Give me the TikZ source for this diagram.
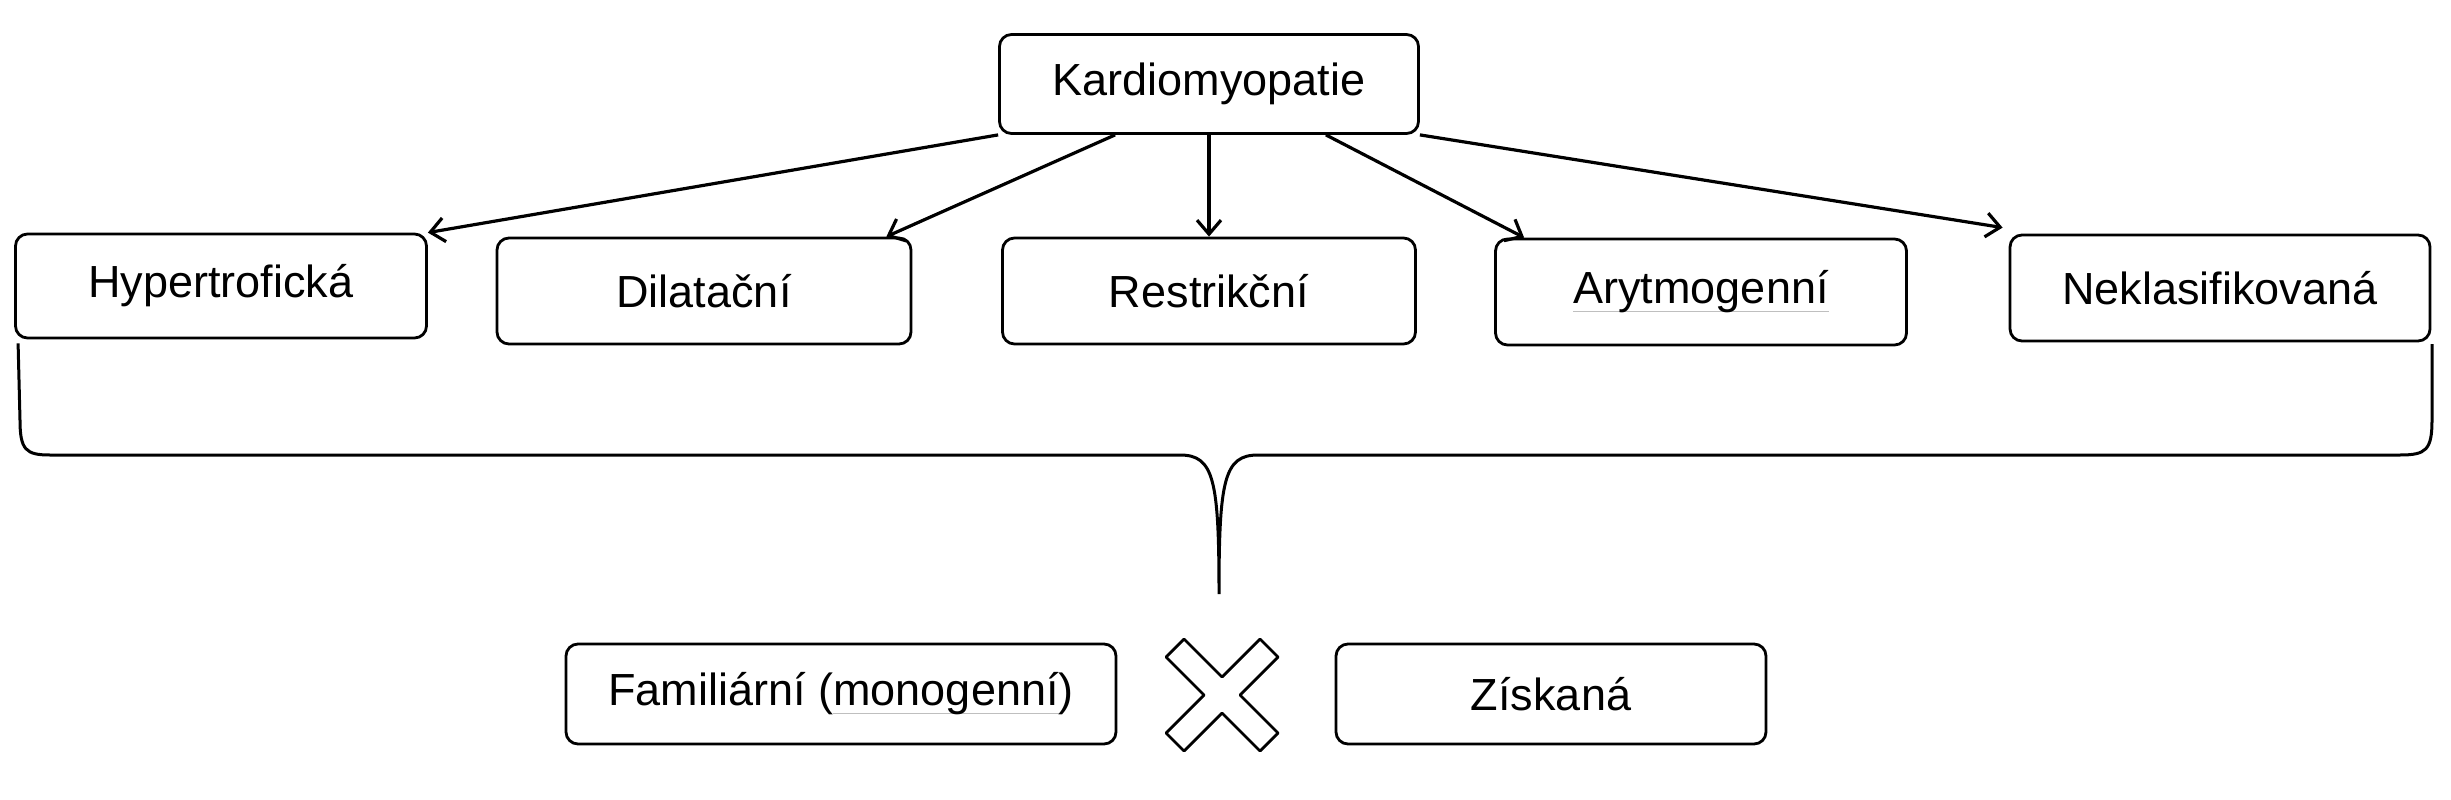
\documentclass[tikz,border=0pt]{standalone}
\usepackage{fontspec}
\usetikzlibrary{arrows.meta}
\setmainfont{Liberation Sans}
\newcommand\grayul[1]{\setbox0\hbox{#1}\rlap{\color{gray!50}\rule[-8pt]{\wd0}{1.2pt}}\box0}
\begin{document}
\begin{tikzpicture}[x=1pt,y=-1pt,
  box/.style={draw,line width=2.8pt,rounded corners=12pt,font=\fontsize{45}{50}\selectfont,inner sep=0pt},
  arr/.style={line width=3.2pt,-{Straight Barb[length=14pt,width=24pt,line width=3.2pt]}}]
\useasboundingbox (0,0) rectangle (2451,800);
\node[box,minimum width=419,minimum height=99] (k) at (1209,84) {Kardiomyopatie};
\node[box,minimum width=411,minimum height=104] (h) at (221,286) {Hypertrofická};
\node[box,minimum width=414,minimum height=106] (d) at (704,291) {Dilatační};
\node[box,minimum width=413,minimum height=106] (r) at (1209,291) {Restrikční};
\node[box,minimum width=411,minimum height=106] (a) at (1701,292) {\grayul{Arytmogenní}};
\node[box,minimum width=420,minimum height=106] (n) at (2220,288) {Neklasifikovaná};
\node[box,minimum width=550,minimum height=100] (f) at (841,694) {Familiární (\grayul{monogenní})};
\node[box,minimum width=430,minimum height=100] (z) at (1551,694) {Získaná};
\draw[arr] (k.south west) -- (h.north east);
\draw[arr] ([xshift=117pt]k.south west) -- ([xshift=-26pt]d.north east);
\draw[arr] (k.south) -- (r.north);
\draw[arr] ([xshift=-94pt]k.south east) -- ([xshift=30pt]a.north west);
\draw[arr] (k.south east) -- ([xshift=-6pt,yshift=6pt]n.north west);
\coordinate (bt) at (1219,594);
\draw[line width=3pt] (h.south west) ++(4,4) -- (20,420) .. controls (20,450) and (26,455) .. (50,455)
  -- (1180,455) .. controls (1214,455) and (1219,480) .. (bt)
  .. controls (1219,480) and (1224,455) .. (1258,455) -- (2400,455)
  .. controls (2426,455) and (2432,450) .. (2432,420) -- (2432,344);
\begin{scope}[shift={(1222,695)},line width=2.8pt,line join=round]
\node[inner sep=0pt,minimum size=1pt] (x) at (0,0) {};
\draw (0,-18) -- (38,-56) -- (56,-38) -- (18,0) -- (56,38) -- (38,56) -- (0,18) -- (-38,56) -- (-56,38) -- (-18,0) -- (-56,-38) -- (-38,-56) -- cycle;
\end{scope}
\end{tikzpicture}
\end{document}
